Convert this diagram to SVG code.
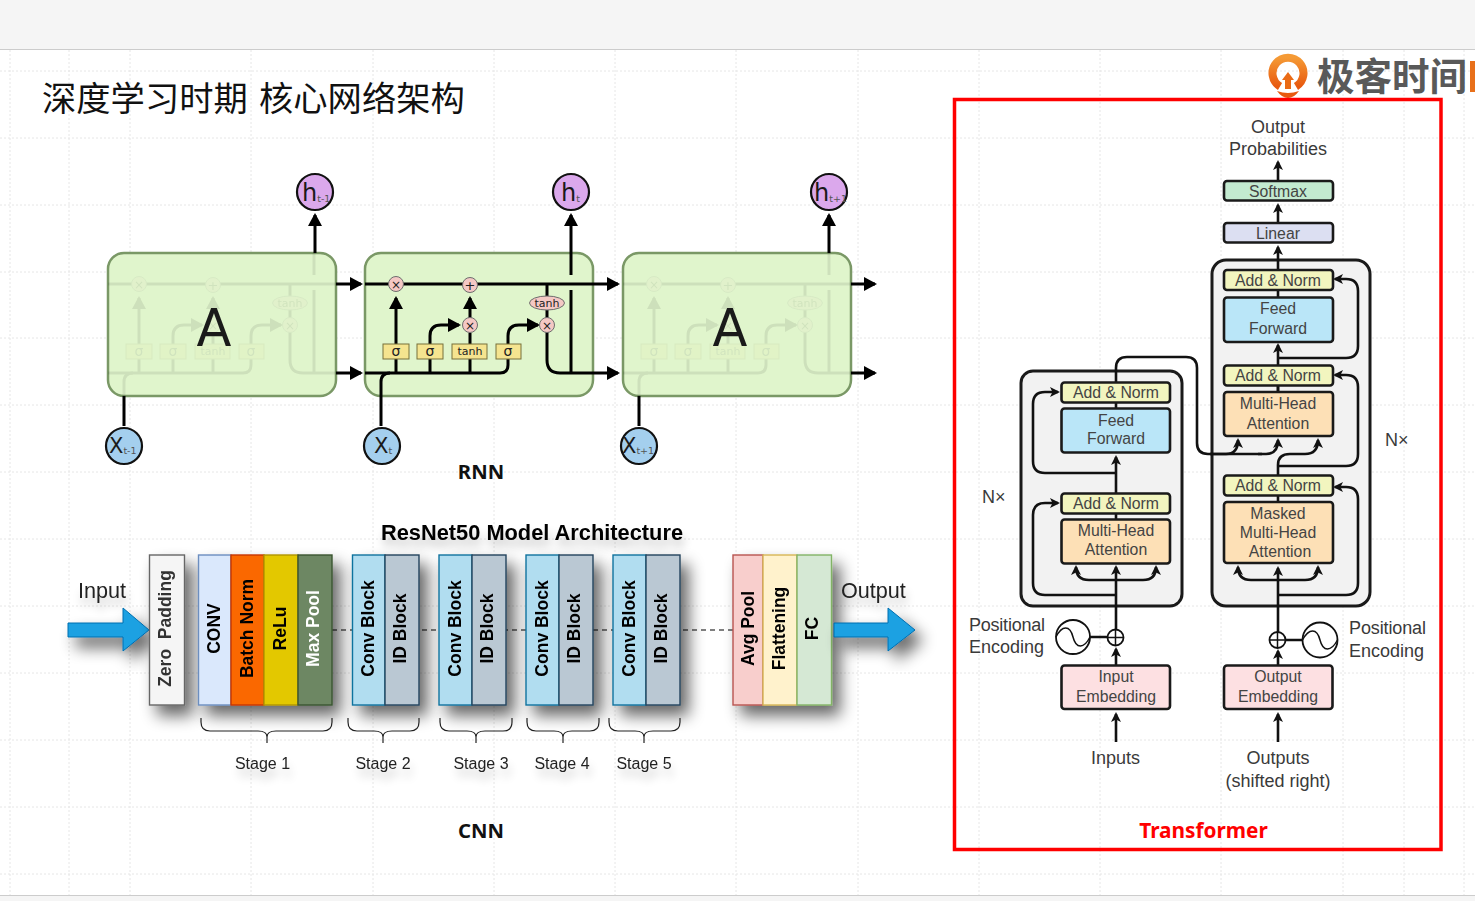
<svg xmlns="http://www.w3.org/2000/svg" xmlns:xlink="http://www.w3.org/1999/xlink" width="1475" height="901" viewBox="0 0 1475 901">
<style>
.grid{stroke:#e6e6e6;stroke-width:1;stroke-dasharray:2 2;fill:none}
.rb{fill:#e0f5cc;stroke:#7a9866;stroke-width:2.5}
.w{fill:none;stroke:#000;stroke-width:3}
.pk{fill:#f4c8c4;stroke:#6d6d6d;stroke-width:1}
.sg{fill:#f5e48f;stroke:#77703a;stroke-width:1}
.lt{font-family:"DejaVu Sans",sans-serif;fill:#222;text-anchor:middle}
.hc{fill:#dba8ec;stroke:#111;stroke-width:2.2}
.xc{fill:#a4cfee;stroke:#111;stroke-width:2.2}
.big{font-family:"DejaVu Sans",sans-serif;fill:#1a1a1a}
.sub{font-family:"DejaVu Sans",sans-serif;fill:#555;font-size:9.5px}
.head{font-family:"Noto Sans","Open Sans",sans-serif;font-weight:700;font-size:20.3px;fill:#111;text-anchor:middle}
.rot{font-family:"Liberation Sans",Arial,sans-serif;font-weight:700;font-size:17.5px;fill:#000;text-anchor:middle}
.s{font-family:"Liberation Sans",Arial,sans-serif;font-size:16px;fill:#222;text-anchor:middle}
.l{font-family:"Liberation Sans",Arial,sans-serif;font-size:21.6px;fill:#222}
.br{fill:none;stroke:#222;stroke-width:1.2}
.ar{fill:#1ba1e2;stroke:#006eaf;stroke-width:1}
.t{font-family:"Liberation Sans",Arial,sans-serif;font-size:15.8px;fill:#444;text-anchor:middle}
.t2{font-family:"Liberation Sans",Arial,sans-serif;font-size:18px;fill:#3a3a3a}
.m{text-anchor:middle}
.box{stroke:#1a1a1a;stroke-width:2.6}
.gray{fill:#f2f2f2;stroke:#1a1a1a;stroke-width:3}
.c{fill:none;stroke:#111;stroke-width:2.6}
.a{marker-end:url(#ah)}
.yl{fill:#f2f5bf}.bl{fill:#bae6f8}.or{fill:#fde0b6}.pi{fill:#fde0e2}
.op{fill:#fff;stroke:#111;stroke-width:1.8}
.thin{fill:none;stroke:#111;stroke-width:1.5}
</style>
<defs>
<marker id="ah" markerUnits="userSpaceOnUse" markerWidth="12" markerHeight="12" refX="8" refY="6" orient="auto" viewBox="0 0 12 12"><path d="M0 1L10 6L0 11L2.500 6z" fill="#111"/></marker>
<marker id="big" markerUnits="userSpaceOnUse" markerWidth="16" markerHeight="16" refX="11" refY="8" orient="auto" viewBox="0 0 16 16"><path d="M0 1L13 8L0 15z" fill="#000"/></marker>
<filter id="sh" x="-60%" y="-25%" width="230%" height="170%"><feGaussianBlur in="SourceAlpha" stdDeviation="8"/><feOffset dx="8" dy="10"/><feComponentTransfer><feFuncA type="linear" slope=".6"/></feComponentTransfer><feMerge><feMergeNode/><feMergeNode in="SourceGraphic"/></feMerge></filter>
<filter id="sht" x="-20%" y="-60%" width="140%" height="300%"><feGaussianBlur in="SourceAlpha" stdDeviation="5"/><feOffset dx="2" dy="8"/><feComponentTransfer><feFuncA type="linear" slope=".22"/></feComponentTransfer><feMerge><feMergeNode/><feMergeNode in="SourceGraphic"/></feMerge></filter>
<linearGradient id="lg" x1="0" y1="0" x2="0" y2="1"><stop offset="0" stop-color="#f59a35"/><stop offset="1" stop-color="#e8590f"/></linearGradient>
<g id="cell">
<path class="w" d="M365 284H593M365 373H500Q508 373 508 365V336Q508 325 519 325H538" marker-end="url(#big)"/>
<path class="w" d="M381 396V382Q381 373 390 373"/>
<path class="w" d="M396 373V298" marker-end="url(#big)"/>
<path class="w" d="M430 373V336Q430 325 441 325H459" marker-end="url(#big)"/>
<path class="w" d="M470 373V333"/>
<path class="w" d="M470 318V298" marker-end="url(#big)"/>
<path class="w" d="M547 284V360Q547 373 560 373H593"/>
<path class="w" d="M571 253V275M571 290V373"/>
<circle class="pk" cx="396" cy="284" r="7.500"/><text class="lt" x="396" y="288.500" font-size="12">×</text>
<circle class="pk" cx="470" cy="285" r="7.500"/><text class="lt" x="470" y="289.500" font-size="13">+</text>
<circle class="pk" cx="470" cy="325" r="7.500"/><text class="lt" x="470" y="329.500" font-size="12">×</text>
<circle class="pk" cx="547" cy="325" r="7.500"/><text class="lt" x="547" y="329.500" font-size="12">×</text>
<ellipse class="pk" cx="547" cy="303" rx="17.500" ry="7"/><text class="lt" x="547" y="307" font-size="11">tanh</text>
<rect class="sg" x="383" y="344" width="26" height="15"/><text class="lt" x="396" y="356" font-size="14">σ</text>
<rect class="sg" x="417" y="344" width="26" height="15"/><text class="lt" x="430" y="356" font-size="14">σ</text>
<rect class="sg" x="452" y="344" width="35" height="15"/><text class="lt" x="470" y="355" font-size="11">tanh</text>
<rect class="sg" x="496" y="344" width="25" height="15"/><text class="lt" x="508" y="356" font-size="14">σ</text>
</g>
</defs>
<rect width="1475" height="901" fill="#fff"/>
<g id="background">
<rect width="1475" height="49" fill="#f5f5f5"/><path d="M0 49.500H1475" stroke="#ccc"/>
<rect y="895" width="1475" height="6" fill="#f5f5f5"/><path d="M0 895.500H1475" stroke="#ccc"/>
<path class="grid" d="M0 71H1475M0 138H1475M0 205H1475M0 272H1475M0 338H1475M0 405H1475M0 472H1475M0 539H1475M0 606H1475M0 673H1475M0 740H1475M0 807H1475M0 874H1475M10 50V895M69 50V895M130 50V895M251 50V895M373 50V895M494 50V895M615 50V895M736 50V895M858 50V895M979 50V895M1100 50V895M1221 50V895M1343 50V895M1404 50V895M1464 50V895"/>
</g>
<text id="title" x="42" y="110.500" font-family="'Noto Sans CJK SC',sans-serif" font-size="34.300" fill="#111">深度学习时期 <tspan x="259">核心网络架构</tspan></text>
<g id="logo">
<path d="M1280 86.500A15.500 15.500 0 1 1 1296 86.500" fill="none" stroke="url(#lg)" stroke-width="8"/>
<path d="M1285 89V80H1282L1288 72L1294 80H1291V89z" fill="#ea6a14"/>
<path d="M1277 91Q1288 95 1299 91Q1294 98 1288 98Q1282 98 1277 91z" fill="#e8590f"/>
<text x="1317" y="90" font-family="'Noto Sans CJK SC',sans-serif" font-weight="700" font-size="37.500" fill="#595959">极客时间</text>
<rect x="1470" y="61" width="5" height="31" fill="#e8701a"/>
</g>
<g id="rnn">
<g id="rnn-box-1"><rect class="rb" x="108" y="253" width="228" height="143" rx="16"/><use href="#cell" x="-257" opacity=".08"/><text class="big" x="214" y="346" font-size="51" text-anchor="middle">A</text></g>
<g id="rnn-box-2"><rect class="rb" x="365" y="253" width="228" height="143" rx="16"/><use href="#cell"/></g>
<g id="rnn-box-3"><rect class="rb" x="623" y="253" width="228" height="143" rx="16"/><use href="#cell" x="258" opacity=".08"/><text class="big" x="730" y="346" font-size="51" text-anchor="middle">A</text></g>
<g id="rnn-connectors">
<path class="w" d="M315 253V215" marker-end="url(#big)"/><path class="w" d="M571 253V215" marker-end="url(#big)"/><path class="w" d="M829 253V215" marker-end="url(#big)"/>
<path class="w" d="M336 284H361" marker-end="url(#big)"/><path class="w" d="M336 373H361" marker-end="url(#big)"/>
<path class="w" d="M593 284H618" marker-end="url(#big)"/><path class="w" d="M593 373H618" marker-end="url(#big)"/>
<path class="w" d="M851 284H875" marker-end="url(#big)"/><path class="w" d="M851 373H875" marker-end="url(#big)"/>
<path class="w" d="M124 396V426M381 396V426M639 396V426"/>
</g>
<g id="h-t-1"><circle class="hc" cx="315" cy="192" r="18"/><text class="big" x="302" y="201" font-size="24">h<tspan class="sub" dy="1">t-1</tspan></text></g>
<g id="h-t"><circle class="hc" cx="571" cy="192" r="18"/><text class="big" x="561" y="201" font-size="24">h<tspan class="sub" dy="1">t</tspan></text></g>
<g id="h-t1"><circle class="hc" cx="829" cy="192" r="18"/><text class="big" x="814" y="201" font-size="24">h<tspan class="sub" dy="1">t+1</tspan></text></g>
<g id="x-t-1"><circle class="xc" cx="124" cy="446" r="18"/><text class="big" x="109" y="453" font-size="21">X<tspan class="sub" dy="1">t-1</tspan></text></g>
<g id="x-t"><circle class="xc" cx="382" cy="446" r="18"/><text class="big" x="374" y="453" font-size="21">X<tspan class="sub" dy="1">t</tspan></text></g>
<g id="x-t1"><circle class="xc" cx="639" cy="446" r="18"/><text class="big" x="622" y="453" font-size="21">X<tspan class="sub" dy="1">t+1</tspan></text></g>
<text class="head" x="481" y="479">RNN</text>
</g>
<g id="cnn">
<text filter="url(#sht)" x="532" y="540" text-anchor="middle" font-family="'Liberation Sans',Arial,sans-serif" font-weight="700" font-size="21.800" fill="#000">ResNet50 Model Architecture</text>
<g id="cnn-connectors"><path d="M332 630H733" fill="none" stroke="#555" stroke-width="1.300" stroke-dasharray="5 4"/></g>
<g id="cnn-input" filter="url(#sht)"><text class="l" x="78" y="598">Input</text></g>
<path id="arrow-in" filter="url(#sh)" class="ar" d="M68 623H123V608L149 630L123 651V637H68z"/>
<g id="zero-padding" filter="url(#sh)"><rect x="149.500" y="555" width="35" height="150" fill="#f5f5f5" stroke="#666" stroke-width="1.400"/><text class="rot" transform="translate(170.500,628.500) rotate(-90)" xml:space="preserve" style="fill:#333">Zero  Padding</text></g>
<g id="stage-1-blocks" filter="url(#sh)">
<g id="conv"><rect x="198.500" y="555" width="32.500" height="150" fill="#dae8fc" stroke="#6c8ebf" stroke-width="1.400"/><text class="rot" transform="translate(219.500,628.500) rotate(-90)">CONV</text></g>
<g id="batch-norm"><rect x="231" y="555" width="33" height="150" fill="#fa6800" stroke="#c73500" stroke-width="1.400"/><text class="rot" transform="translate(252.500,628.500) rotate(-90)">Batch Norm</text></g>
<g id="relu"><rect x="264" y="555" width="34" height="150" fill="#e3c800" stroke="#b09500" stroke-width="1.400"/><text class="rot" transform="translate(285.500,628.500) rotate(-90)">ReLu</text></g>
<g id="max-pool"><rect x="298" y="555" width="34" height="150" fill="#6d8764" stroke="#3a5431" stroke-width="1.400"/><text class="rot" transform="translate(319,628.500) rotate(-90)" style="fill:#fff">Max Pool</text></g>
</g>
<g id="stage-2-blocks" filter="url(#sh)">
<g id="conv-block-2"><rect x="352.500" y="555" width="32.500" height="150" fill="#b1ddf0" stroke="#10739e" stroke-width="1.400"/><text class="rot" transform="translate(373.500,628.500) rotate(-90)">Conv Block</text></g>
<g id="id-block-2"><rect x="385" y="555" width="34" height="150" fill="#bac8d3" stroke="#23445d" stroke-width="1.400"/><text class="rot" transform="translate(406,628.500) rotate(-90)">ID Block</text></g>
</g>
<g id="stage-3-blocks" filter="url(#sh)">
<g id="conv-block-3"><rect x="439" y="555" width="33" height="150" fill="#b1ddf0" stroke="#10739e" stroke-width="1.400"/><text class="rot" transform="translate(460.500,628.500) rotate(-90)">Conv Block</text></g>
<g id="id-block-3"><rect x="472" y="555" width="34" height="150" fill="#bac8d3" stroke="#23445d" stroke-width="1.400"/><text class="rot" transform="translate(493,628.500) rotate(-90)">ID Block</text></g>
</g>
<g id="stage-4-blocks" filter="url(#sh)">
<g id="conv-block-4"><rect x="526" y="555" width="33" height="150" fill="#b1ddf0" stroke="#10739e" stroke-width="1.400"/><text class="rot" transform="translate(547.500,628.500) rotate(-90)">Conv Block</text></g>
<g id="id-block-4"><rect x="559" y="555" width="34" height="150" fill="#bac8d3" stroke="#23445d" stroke-width="1.400"/><text class="rot" transform="translate(580,628.500) rotate(-90)">ID Block</text></g>
</g>
<g id="stage-5-blocks" filter="url(#sh)">
<g id="conv-block-5"><rect x="613" y="555" width="33" height="150" fill="#b1ddf0" stroke="#10739e" stroke-width="1.400"/><text class="rot" transform="translate(634.500,628.500) rotate(-90)">Conv Block</text></g>
<g id="id-block-5"><rect x="646" y="555" width="34" height="150" fill="#bac8d3" stroke="#23445d" stroke-width="1.400"/><text class="rot" transform="translate(667,628.500) rotate(-90)">ID Block</text></g>
</g>
<g id="head-blocks" filter="url(#sh)">
<g id="avg-pool"><rect x="733" y="555" width="30" height="150" fill="#f8cecc" stroke="#b85450" stroke-width="1.400"/><text class="rot" transform="translate(754,628.500) rotate(-90)">Avg Pool</text></g>
<g id="flattening"><rect x="763" y="555" width="34" height="150" fill="#fff2cc" stroke="#d6b656" stroke-width="1.400"/><text class="rot" transform="translate(785,628.500) rotate(-90)">Flattening</text></g>
<g id="fc"><rect x="797" y="555" width="34.500" height="150" fill="#d5e8d4" stroke="#82b366" stroke-width="1.400"/><text class="rot" transform="translate(818,628.500) rotate(-90)">FC</text></g>
</g>
<g id="cnn-output" filter="url(#sht)"><text class="l" x="841" y="598">Output</text></g>
<path id="arrow-out" filter="url(#sh)" class="ar" d="M834 623H888V608L915 630L888 651V637H834z"/>
<g id="braces">
<path class="br" d="M201 718V722Q201 731 210 731H258Q267 731 267 737V743M267 737Q267 731 276 731H323Q332 731 332 722V718"/>
<path class="br" d="M348 718V722Q348 731 357 731H374Q383 731 383 737V743M383 737Q383 731 392 731H410Q419 731 419 722V718"/>
<path class="br" d="M440 718V722Q440 731 449 731H467Q476 731 476 737V743M476 737Q476 731 485 731H503Q512 731 512 722V718"/>
<path class="br" d="M527 718V722Q527 731 536 731H554Q563 731 563 737V743M563 737Q563 731 572 731H590Q599 731 599 722V718"/>
<path class="br" d="M609 718V722Q609 731 618 731H635Q644 731 644 737V743M644 737Q644 731 653 731H671Q680 731 680 722V718"/>
</g>
<g id="stage-labels" filter="url(#sht)">
<text class="s" x="262.500" y="769">Stage 1</text><text class="s" x="383" y="769">Stage 2</text><text class="s" x="481" y="769">Stage 3</text><text class="s" x="562" y="769">Stage 4</text><text class="s" x="644" y="769">Stage 5</text>
</g>
<text class="head" x="481" y="838">CNN</text>
</g>
<g id="transformer">
<rect id="frame" x="954.500" y="99.500" width="486.500" height="750" fill="none" stroke="#f00" stroke-width="3.500"/>
<g id="encoder-stack"><rect class="gray" x="1021" y="371" width="161" height="235" rx="12"/></g>
<g id="decoder-stack"><rect class="gray" x="1212" y="260" width="158" height="346" rx="14"/></g>
<g id="transformer-connectors">
<path class="c a" d="M1278 180V162"/><path class="c a" d="M1278 222V205"/><path class="c a" d="M1278 269V247"/>
<path class="c" d="M1278 290V297"/><path class="c a" d="M1278 392V345"/>
<path class="c a" d="M1278 358H1346Q1358 358 1358 346V291Q1358 279 1346 279H1335"/>
<path class="c" d="M1278 385V392"/>
<path class="c a" d="M1278 475V465Q1278 454 1290 454H1305Q1318 454 1318 440"/>
<path class="c a" d="M1278 466H1346Q1358 466 1358 454V387Q1358 375 1346 375H1335"/>
<path class="c" d="M1278 496V502"/>
<path class="c a" d="M1278 632V568"/>
<path class="c a" d="M1278 595H1346Q1358 595 1358 583V499Q1358 487 1346 487H1335"/>
<path class="c a" d="M1278 580H1251Q1238 580 1238 567"/><path class="c a" d="M1278 580H1305Q1318 580 1318 567"/>
<path class="c a" d="M1116 629V567"/>
<path class="c a" d="M1116 595H1045Q1033 595 1033 583V515Q1033 503 1045 503H1058"/>
<path class="c a" d="M1116 580H1089Q1076 580 1076 567"/><path class="c a" d="M1116 580H1143Q1156 580 1156 567"/>
<path class="c" d="M1116 513V519"/><path class="c a" d="M1116 493V457"/>
<path class="c a" d="M1116 473H1045Q1033 473 1033 461V404Q1033 392 1045 392H1058"/>
<path class="c" d="M1116 403V408"/>
<path class="c" d="M1116 382V368Q1116 357 1127 357H1186Q1197 357 1197 368V443Q1197 454 1208 454H1262"/>
<path class="c a" d="M1210 454H1226Q1238 454 1238 440"/><path class="c a" d="M1258 454H1266Q1278 454 1278 440"/>
<path class="c a" d="M1116 665V649"/><path class="c a" d="M1278 665V651"/>
<path class="c a" d="M1116 742V714"/><path class="c a" d="M1278 742V714"/>
<path class="c" d="M1090 637H1107M1286 640H1303"/>
</g>
<g id="softmax"><rect class="box" x="1224" y="181" width="109" height="19.500" rx="3" fill="#c3ead0"/><text class="t" x="1278" y="197">Softmax</text></g>
<g id="linear"><rect class="box" x="1224" y="223" width="109" height="19.500" rx="3" fill="#dcdff2"/><text class="t" x="1278" y="239">Linear</text></g>
<g id="dec-add-norm-3"><rect class="box yl" x="1224" y="270" width="109" height="20" rx="3"/><text class="t" x="1278" y="285.500">Add &amp; Norm</text></g>
<g id="dec-feed-forward"><rect class="box bl" x="1224" y="297.500" width="109" height="44.500" rx="3"/><text class="t" x="1278" y="314">Feed</text><text class="t" x="1278" y="333.500">Forward</text></g>
<g id="dec-add-norm-2"><rect class="box yl" x="1224" y="365.500" width="109" height="20" rx="3"/><text class="t" x="1278" y="381">Add &amp; Norm</text></g>
<g id="dec-attention"><rect class="box or" x="1224" y="392" width="109" height="44" rx="3"/><text class="t" x="1278" y="409">Multi-Head</text><text class="t" x="1278" y="428.500">Attention</text></g>
<g id="dec-add-norm-1"><rect class="box yl" x="1224" y="475.500" width="109" height="20" rx="3"/><text class="t" x="1278" y="491">Add &amp; Norm</text></g>
<g id="dec-masked"><rect class="box or" x="1224" y="502" width="109" height="61" rx="3"/><text class="t" x="1278" y="518.500">Masked</text><text class="t" x="1278" y="538">Multi-Head</text><text class="t" x="1280" y="557">Attention</text></g>
<g id="enc-add-norm-2"><rect class="box yl" x="1061.500" y="382.500" width="108.500" height="20" rx="3"/><text class="t" x="1116" y="398">Add &amp; Norm</text></g>
<g id="enc-feed-forward"><rect class="box bl" x="1061.500" y="408.500" width="108.500" height="44" rx="3"/><text class="t" x="1116" y="425.500">Feed</text><text class="t" x="1116" y="444">Forward</text></g>
<g id="enc-add-norm-1"><rect class="box yl" x="1061.500" y="493.500" width="108.500" height="20" rx="3"/><text class="t" x="1116" y="509">Add &amp; Norm</text></g>
<g id="enc-attention"><rect class="box or" x="1061.500" y="519.500" width="108.500" height="44" rx="3"/><text class="t" x="1116" y="536">Multi-Head</text><text class="t" x="1116" y="555">Attention</text></g>
<g id="input-embedding"><rect class="box pi" x="1061.500" y="665.500" width="108.500" height="43.500" rx="3"/><text class="t" x="1116" y="682">Input</text><text class="t" x="1116" y="701.500">Embedding</text></g>
<g id="output-embedding"><rect class="box pi" x="1224" y="665.500" width="108.500" height="43.500" rx="3"/><text class="t" x="1278" y="682">Output</text><text class="t" x="1278" y="701.500">Embedding</text></g>
<g id="enc-add"><circle class="op" cx="1115.500" cy="637.500" r="8"/><path class="thin" d="M1107.500 637.500H1123.500M1115.500 629.500V645.500"/></g>
<g id="dec-add"><circle class="op" cx="1277.500" cy="640" r="8"/><path class="thin" d="M1269.500 640H1285.500M1277.500 632V648"/></g>
<g id="enc-pos"><circle class="op" cx="1073" cy="637" r="17"/><path class="thin" d="M1056 637C1062 625 1070 625 1073 637C1076 649 1084 649 1090 637"/></g>
<g id="dec-pos"><circle class="op" cx="1320" cy="640" r="17.500"/><path class="thin" d="M1302.500 640C1309 628 1317 628 1320 640C1323 652 1331 652 1337.500 640"/></g>
<text class="t2 m" x="1278" y="133">Output</text><text class="t2 m" x="1278" y="155">Probabilities</text>
<text class="t2" x="969" y="631" textLength="76">Positional</text><text class="t2" x="969" y="653">Encoding</text>
<text class="t2" x="1349" y="634" textLength="77">Positional</text><text class="t2" x="1349" y="657">Encoding</text>
<text class="t2" x="982" y="503">N×</text><text class="t2" x="1385" y="446">N×</text>
<text class="t2 m" x="1115.500" y="764">Inputs</text>
<text class="t2 m" x="1278" y="764">Outputs</text><text class="t2 m" x="1278" y="786.500">(shifted right)</text>
<text x="1203.500" y="838" text-anchor="middle" font-family="'Noto Sans','Open Sans',sans-serif" font-weight="700" font-size="20.800" fill="#f00">Transformer</text>
</g>
</svg>
